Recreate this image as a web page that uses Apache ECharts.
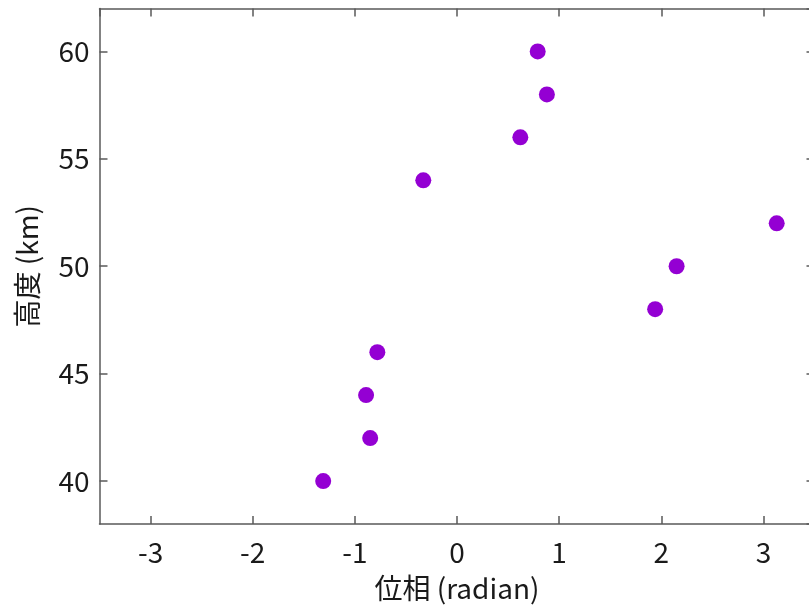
<!DOCTYPE html>
<html>
<head>
<meta charset="utf-8">
<script src="https://cdn.jsdelivr.net/npm/echarts@6/dist/echarts.min.js"></script>
<style>
  html, body { margin: 0; padding: 0; background: #fff; overflow: hidden; }
  /* the frame's right edge falls just outside the 809px picture */
  #main { width: 815px; height: 607px; }
</style>
</head>
<body>
<div id="main"></div>
<script>
// phase (radian) vs altitude (km)
var phase = [-1.31, -0.85, -0.89, -0.78, 1.94, 2.15, 3.13, -0.33, 0.62, 0.88, 0.79];
var altitude = [40, 42, 44, 46, 48, 50, 52, 54, 56, 58, 60];

var xName = '位相 (radian)';
var yName = '高度 (km)';
var xRange = [-3.5, 3.5];
var yRange = [38, 62];

var font = '"Noto Sans CJK JP", "Noto Sans", sans-serif';
var axisColor = '#5a5a5a';
var textColor = '#1a1a1a';

var chart = echarts.init(document.getElementById('main'));

var points = phase.map(function (p, i) { return [p, altitude[i]]; });

function frameAxis(pos, isX, showLabel) {
    return {
        type: 'value',
        position: pos,
        min: isX ? xRange[0] : yRange[0],
        max: isX ? xRange[1] : yRange[1],
        splitNumber: 5,
        axisLine: { show: true, onZero: false, lineStyle: { color: axisColor, width: 1.5 } },
        axisTick: { show: true, inside: true, length: 8, lineStyle: { color: axisColor, width: 1.5 } },
        axisLabel: {
            show: showLabel,
            showMinLabel: false,
            showMaxLabel: false,
            color: textColor,
            fontFamily: font,
            fontSize: 28,
            margin: isX ? 14 : 10
        },
        splitLine: { show: false }
    };
}

var xMain = frameAxis('bottom', true, true);
xMain.name = xName;
xMain.nameLocation = 'middle';
xMain.nameGap = 50;
xMain.nameTextStyle = { color: textColor, fontFamily: font, fontSize: 28 };

var yMain = frameAxis('left', false, true);
yMain.name = yName;
yMain.nameLocation = 'middle';
yMain.nameGap = 58;
yMain.nameTextStyle = { color: textColor, fontFamily: font, fontSize: 28 };

var option = {
    backgroundColor: '#fff',
    animation: false,
    grid: { left: 99.5, top: 8.5, right: 0.5, bottom: 81, containLabel: false },
    xAxis: [xMain, frameAxis('top', true, false)],
    yAxis: [yMain, frameAxis('right', false, false)],
    series: [{
        type: 'scatter',
        xAxisIndex: 0,
        yAxisIndex: 0,
        symbol: 'circle',
        symbolSize: 16,
        itemStyle: { color: '#9400d3', opacity: 1 },
        data: points
    }]
};

chart.setOption(option);
</script>
</body>
</html>
